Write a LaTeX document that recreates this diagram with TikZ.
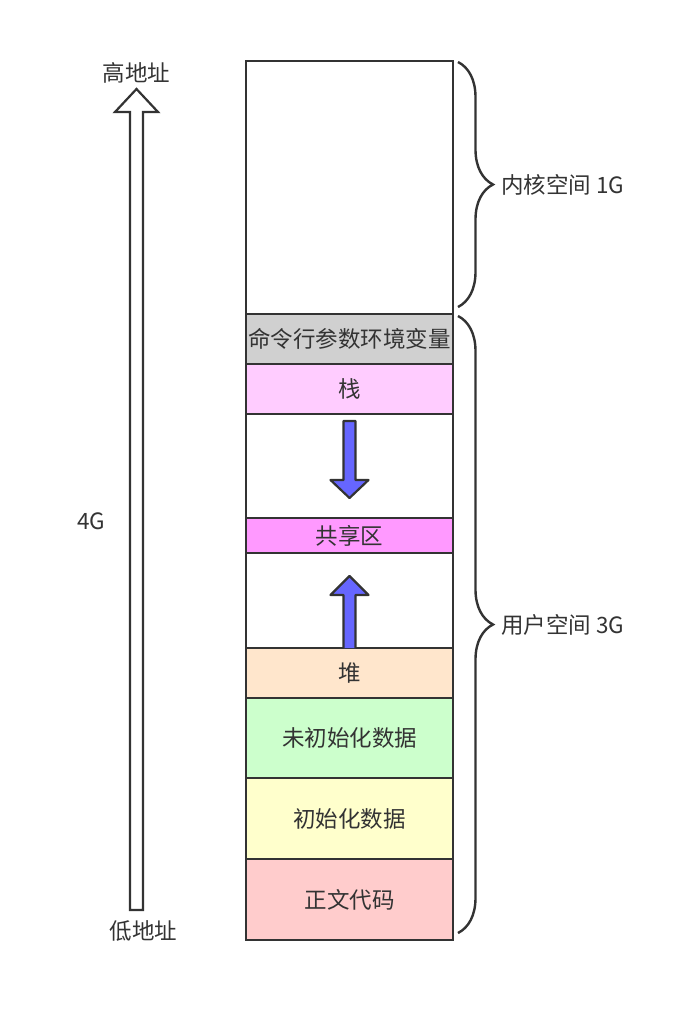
\documentclass[tikz,border=0pt]{standalone}
\usepackage{fontspec}
\setmainfont{Noto Sans CJK SC}
\usepackage{tikz}
\usetikzlibrary{positioning, calc, decorations.pathreplacing}

\definecolor{edge}{HTML}{333333}
\definecolor{argsgray}{HTML}{D0D0D0}
\definecolor{stackpink}{HTML}{FFCCFF}
\definecolor{sharepink}{HTML}{FF99FF}
\definecolor{heaporange}{HTML}{FFE6CC}
\definecolor{bssgreen}{HTML}{CCFFCC}
\definecolor{datayellow}{HTML}{FFFFCC}
\definecolor{textred}{HTML}{FFCCCC}
\definecolor{growblue}{HTML}{6666FF}

\begin{document}
\begin{tikzpicture}[
  x=1pt, y=-1pt,
  font=\fontsize{22.5}{27}\selectfont, text=edge,
  seg/.style = {draw=edge, line width=2.4pt, minimum width=207pt, inner sep=0pt, outer sep=0pt},
  growarrow/.style = {draw=edge, fill=growblue, line width=2.2pt, line join=round},
  addrarrow/.style = {draw=edge, fill=white, line width=2.2pt, line join=miter},
  spanbrace/.style = {draw=edge, line width=2.4pt, decorate, decoration={brace, amplitude=35pt, aspect=0.5}}
  ]
  \useasboundingbox (0,0) rectangle (675,1021);
  % memory layout, top to bottom
  \node[seg, minimum height=253pt] (kern) at (349.5,187.5) {};
  \node[seg, fill=argsgray, minimum height=50pt, below=0pt of kern] (args) {命令行参数环境变量};
  \node[seg, fill=stackpink, minimum height=50pt, below=0pt of args] (stack) {栈};
  \node[seg, minimum height=104pt, below=0pt of stack] (gap1) {};
  \node[seg, fill=sharepink, minimum height=35pt, below=0pt of gap1] (share) {共享区};
  \node[seg, minimum height=95pt, below=0pt of share] (gap2) {};
  \node[seg, fill=heaporange, minimum height=50pt, below=0pt of gap2] (heap) {堆};
  \node[seg, fill=bssgreen, minimum height=80pt, below=0pt of heap] (bss) {未初始化数据};
  \node[seg, fill=datayellow, minimum height=81pt, below=0pt of bss] (data) {初始化数据};
  \node[seg, fill=textred, minimum height=81pt, below=0pt of data] (text) {正文代码};
  % growth arrows
  \draw[growarrow] (343.5,421) -- (355.5,421) -- (355.5,480) -- (368.5,480) -- (349.5,498)
    -- (330.5,480) -- (343.5,480) -- cycle;
  \draw[growarrow] (343.5,648) -- (343.5,595) -- (330.5,595) -- (349.5,576) -- (368.5,595)
    -- (355.5,595) -- (355.5,648);
  % address arrow
  \draw[addrarrow] (130,910) -- (130,112) -- (115,112) -- (136.5,89) -- (158,112) -- (143,112)
    -- (143,910) -- cycle;
  \node (high) at (136.5,73) {高地址};
  \node (low) at (143.5,931) {低地址};
  \node (size) at (91,521) {4G};
  % spaces
  \draw[spanbrace] (458,62) -- (458,307);
  \draw[spanbrace] (458,316) -- (458,933);
  \node[anchor=west, inner sep=0pt] (kspace) at (501,185) {内核空间 1G};
  \node[anchor=west, inner sep=0pt] (uspace) at (501,624.5) {用户空间 3G};
\end{tikzpicture}
\end{document}
